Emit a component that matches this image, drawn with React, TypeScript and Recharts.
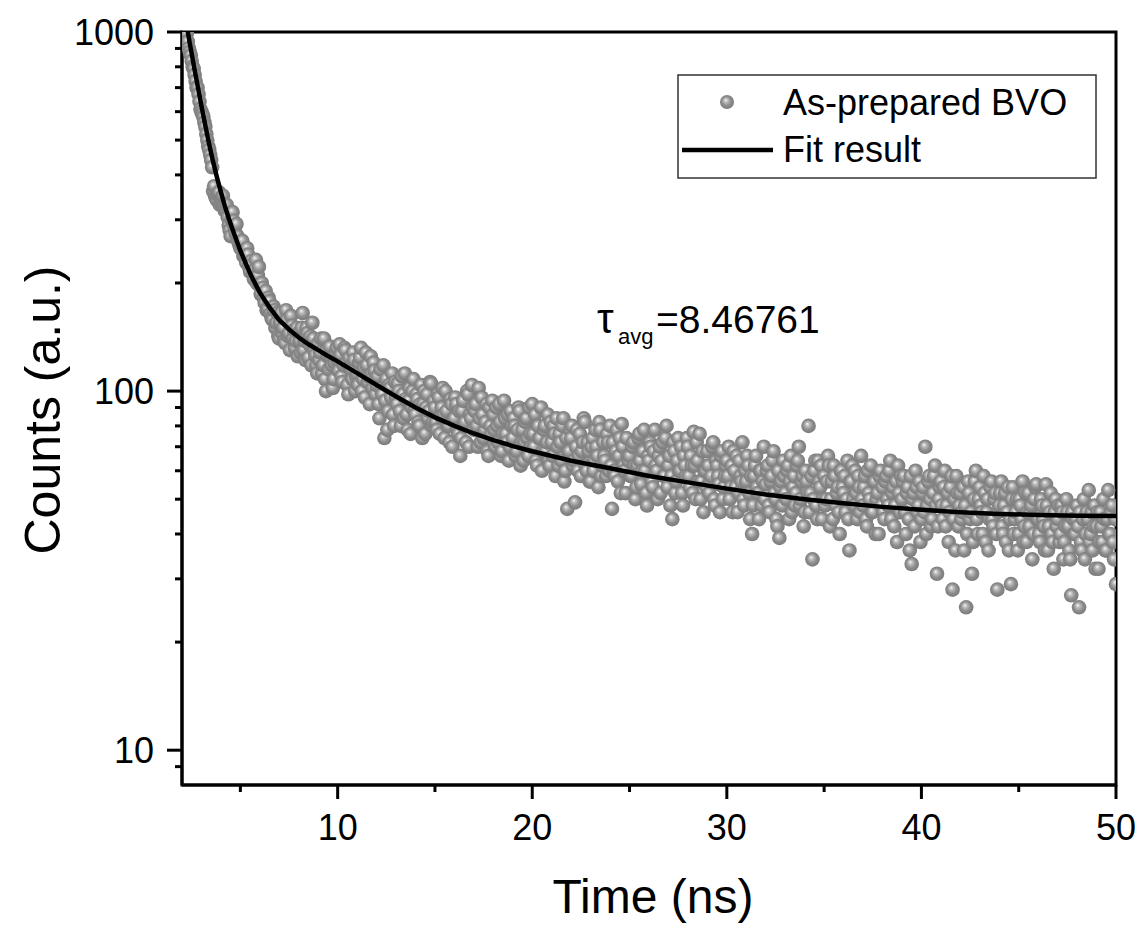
import React from "react";
import {
  ComposedChart,
  Scatter,
  XAxis,
  YAxis,
  ReferenceArea,
  Customized,
} from "recharts";

// TRPL decay, As-prepared BVO
const timeEarly = [
  2.2, 2.3, 2.4, 2.5, 2.6, 2.7, 2.8, 2.9,
  3.0, 3.1, 3.2, 3.3, 3.4, 3.5, 3.6, 3.7, 3.8, 3.9,
  4.0, 4.1, 4.2, 4.3, 4.4, 4.5, 4.6, 4.7, 4.8, 4.9,
  5.0, 5.1, 5.2, 5.3, 5.4, 5.5, 5.6, 5.7, 5.8, 5.9,
  6.0, 6.1, 6.2, 6.3, 6.4, 6.5, 6.6, 6.7, 6.8, 6.9,
  7.0, 7.1, 7.2, 7.3, 7.4, 7.5, 7.6, 7.7, 7.8, 7.9,
  8.0, 8.1, 8.2, 8.3, 8.4, 8.5, 8.6, 8.7, 8.8, 8.9,
  9.0, 9.1, 9.2, 9.3, 9.4, 9.5, 9.6, 9.7, 9.8, 9.9,
];
const countsEarly = [
  960, 940, 880, 830, 790, 730, 700, 640,
  600, 580, 545, 500, 470, 440, 360, 350, 340, 358,
  335, 350, 318, 330, 290, 270, 315, 285, 292, 260,
  250, 262, 245, 228, 240, 215, 225, 205, 232, 210,
  196, 200, 182, 190, 170, 178, 160, 172, 150, 165,
  140, 165, 150, 136, 158, 145, 162, 140, 132, 150,
  145, 128, 165, 138, 150, 124, 142, 155, 130, 118,
  136, 128, 112, 140, 100, 125, 133, 118, 108, 128,
];
const timeEarlyB = [
  2.25, 2.35, 2.45, 2.55, 2.65, 2.75, 2.85, 2.95,
  3.05, 3.15, 3.25, 3.35, 3.45, 3.55, 3.65, 3.75, 3.85, 3.95,
  4.05, 4.15, 4.25, 4.35, 4.45, 4.55, 4.65, 4.75, 4.85, 4.95,
  5.05, 5.15, 5.25, 5.35, 5.45, 5.55, 5.65, 5.75, 5.85, 5.95,
  6.05, 6.15, 6.25, 6.35, 6.45, 6.55, 6.65, 6.75, 6.85, 6.95,
  7.05, 7.15, 7.25, 7.35, 7.45, 7.55, 7.65, 7.75, 7.85, 7.95,
  8.05, 8.15, 8.25, 8.35, 8.45, 8.55, 8.65, 8.75, 8.85, 8.95,
  9.05, 9.15, 9.25, 9.35, 9.45, 9.55, 9.65, 9.75, 9.85, 9.95,
];
const countsEarlyB = [
  990, 900, 860, 800, 760, 700, 670, 610,
  590, 560, 520, 480, 455, 420, 372, 344, 352, 330,
  342, 325, 322, 305, 280, 300, 298, 275, 270, 255,
  256, 238, 236, 250, 222, 230, 212, 218, 200, 222,
  186, 194, 176, 168, 182, 164, 158, 168, 155, 142,
  155, 145, 138, 168, 142, 130, 152, 148, 138, 125,
  138, 150, 130, 122, 145, 135, 118, 140, 126, 112,
  122, 140, 118, 108, 130, 115, 124, 102, 120, 132,
];

const timeMid = [
  10.0, 10.1, 10.2, 10.3, 10.4, 10.5, 10.6, 10.7, 10.8, 10.9,
  11.0, 11.1, 11.2, 11.3, 11.4, 11.5, 11.6, 11.7, 11.8, 11.9,
  12.0, 12.1, 12.2, 12.3, 12.4, 12.5, 12.6, 12.7, 12.8, 12.9,
  13.0, 13.1, 13.2, 13.3, 13.4, 13.5, 13.6, 13.7, 13.8, 13.9,
  14.0, 14.1, 14.2, 14.3, 14.4, 14.5, 14.6, 14.7, 14.8, 14.9,
  15.0, 15.1, 15.2, 15.3, 15.4, 15.5, 15.6, 15.7, 15.8, 15.9,
  16.0, 16.1, 16.2, 16.3, 16.4, 16.5, 16.6, 16.7, 16.8, 16.9,
  17.0, 17.1, 17.2, 17.3, 17.4, 17.5, 17.6, 17.7, 17.8, 17.9,
  18.0, 18.1, 18.2, 18.3, 18.4, 18.5, 18.6, 18.7, 18.8, 18.9,
  19.0, 19.1, 19.2, 19.3, 19.4, 19.5, 19.6, 19.7, 19.8, 19.9,
  20.0, 20.1, 20.2, 20.3, 20.4, 20.5, 20.6, 20.7, 20.8, 20.9,
  21.0, 21.1, 21.2, 21.3, 21.4, 21.5, 21.6, 21.7, 21.8, 21.9,
  22.0, 22.1, 22.2, 22.3, 22.4, 22.5, 22.6, 22.7, 22.8, 22.9,
  23.0, 23.1, 23.2, 23.3, 23.4, 23.5, 23.6, 23.7, 23.8, 23.9,
  24.0, 24.1, 24.2, 24.3, 24.4, 24.5, 24.6, 24.7, 24.8, 24.9,
  25.0, 25.1, 25.2, 25.3, 25.4, 25.5, 25.6, 25.7, 25.8, 25.9,
  26.0, 26.1, 26.2, 26.3, 26.4, 26.5, 26.6, 26.7, 26.8, 26.9,
  27.0, 27.1, 27.2, 27.3, 27.4, 27.5, 27.6, 27.7, 27.8, 27.9,
  28.0, 28.1, 28.2, 28.3, 28.4, 28.5, 28.6, 28.7, 28.8, 28.9,
  29.0, 29.1, 29.2, 29.3, 29.4, 29.5, 29.6, 29.7, 29.8, 29.9,
];
const countsMid = [
  122, 135, 110, 118, 130, 104, 124, 115, 128, 100,
  112, 120, 132, 108, 96, 118, 110, 125, 102, 114,
  104, 92, 115, 98, 74, 108, 88, 102, 112, 80,
  96, 105, 88, 110, 84, 95, 78, 102, 90, 108,
  86, 95, 80, 104, 92, 76, 98, 88, 105, 82,
  90, 78, 96, 85, 102, 74, 88, 80, 95, 70,
  84, 92, 76, 66, 88, 80, 72, 98, 86, 104,
  78, 92, 70, 84, 96, 74, 82, 68, 90, 76,
  86, 70, 80, 92, 66, 76, 84, 72, 64, 88,
  74, 80, 68, 90, 62, 78, 72, 84, 66, 76,
  92, 70, 64, 80, 74, 60, 78, 68, 86, 62,
  72, 80, 58, 70, 76, 64, 84, 60, 47, 68,
  74, 62, 49, 78, 66, 58, 72, 82, 60, 68,
  56, 74, 64, 70, 54, 78, 62, 66, 58, 72,
  80, 47, 60, 68, 56, 74, 81, 62, 52, 66,
  66, 58, 72, 50, 62, 76, 55, 68, 60, 48,
  64, 70, 54, 78, 60, 66, 52, 72, 58, 80,
  62, 48, 44, 68, 56, 74, 60, 52, 66, 58,
  70, 54, 62, 77, 50, 64, 76, 56, 46, 60,
  68, 52, 58, 72, 48, 62, 55, 66, 50, 58,
];
const timeMidB = [
  10.05, 10.15, 10.25, 10.35, 10.45, 10.55, 10.65, 10.75, 10.85, 10.95,
  11.05, 11.15, 11.25, 11.35, 11.45, 11.55, 11.65, 11.75, 11.85, 11.95,
  12.05, 12.15, 12.25, 12.35, 12.45, 12.55, 12.65, 12.75, 12.85, 12.95,
  13.05, 13.15, 13.25, 13.35, 13.45, 13.55, 13.65, 13.75, 13.85, 13.95,
  14.05, 14.15, 14.25, 14.35, 14.45, 14.55, 14.65, 14.75, 14.85, 14.95,
  15.05, 15.15, 15.25, 15.35, 15.45, 15.55, 15.65, 15.75, 15.85, 15.95,
  16.05, 16.15, 16.25, 16.35, 16.45, 16.55, 16.65, 16.75, 16.85, 16.95,
  17.05, 17.15, 17.25, 17.35, 17.45, 17.55, 17.65, 17.75, 17.85, 17.95,
  18.05, 18.15, 18.25, 18.35, 18.45, 18.55, 18.65, 18.75, 18.85, 18.95,
  19.05, 19.15, 19.25, 19.35, 19.45, 19.55, 19.65, 19.75, 19.85, 19.95,
  20.05, 20.15, 20.25, 20.35, 20.45, 20.55, 20.65, 20.75, 20.85, 20.95,
  21.05, 21.15, 21.25, 21.35, 21.45, 21.55, 21.65, 21.75, 21.85, 21.95,
  22.05, 22.15, 22.25, 22.35, 22.45, 22.55, 22.65, 22.75, 22.85, 22.95,
  23.05, 23.15, 23.25, 23.35, 23.45, 23.55, 23.65, 23.75, 23.85, 23.95,
  24.05, 24.15, 24.25, 24.35, 24.45, 24.55, 24.65, 24.75, 24.85, 24.95,
  25.05, 25.15, 25.25, 25.35, 25.45, 25.55, 25.65, 25.75, 25.85, 25.95,
  26.05, 26.15, 26.25, 26.35, 26.45, 26.55, 26.65, 26.75, 26.85, 26.95,
  27.05, 27.15, 27.25, 27.35, 27.45, 27.55, 27.65, 27.75, 27.85, 27.95,
  28.05, 28.15, 28.25, 28.35, 28.45, 28.55, 28.65, 28.75, 28.85, 28.95,
  29.05, 29.15, 29.25, 29.35, 29.45, 29.55, 29.65, 29.75, 29.85, 29.95,
];
const countsMidB = [
  114, 126, 106, 132, 120, 98, 116, 108, 122, 110,
  104, 124, 100, 116, 128, 106, 92, 112, 120, 98,
  110, 84, 100, 118, 94, 78, 104, 96, 86, 106,
  92, 100, 80, 98, 112, 86, 94, 76, 100, 88,
  98, 82, 92, 74, 100, 90, 84, 106, 80, 94,
  82, 98, 76, 90, 86, 100, 80, 72, 92, 84,
  96, 78, 88, 74, 94, 82, 100, 70, 84, 90,
  88, 80, 102, 72, 86, 78, 92, 66, 80, 94,
  78, 90, 72, 82, 68, 94, 76, 86, 70, 80,
  84, 66, 78, 88, 72, 64, 82, 74, 90, 70,
  76, 86, 62, 74, 90, 68, 80, 72, 64, 82,
  66, 76, 84, 62, 72, 80, 56, 74, 68, 78,
  80, 64, 70, 60, 76, 68, 84, 62, 72, 56,
  70, 60, 78, 66, 82, 58, 72, 64, 76, 60,
  62, 72, 58, 78, 66, 52, 70, 60, 74, 64,
  58, 70, 62, 54, 74, 64, 60, 78, 52, 66,
  72, 56, 68, 62, 50, 70, 64, 58, 74, 54,
  66, 58, 72, 52, 64, 60, 70, 48, 62, 74,
  58, 66, 52, 62, 72, 56, 50, 68, 60, 54,
  62, 56, 70, 50, 64, 58, 46, 68, 54, 62,
];

const timeLate = [
  30.0, 30.1, 30.2, 30.3, 30.4, 30.5, 30.6, 30.7, 30.8, 30.9,
  31.0, 31.1, 31.2, 31.3, 31.4, 31.5, 31.6, 31.7, 31.8, 31.9,
  32.0, 32.1, 32.2, 32.3, 32.4, 32.5, 32.6, 32.7, 32.8, 32.9,
  33.0, 33.1, 33.2, 33.3, 33.4, 33.5, 33.6, 33.7, 33.8, 33.9,
  34.0, 34.1, 34.2, 34.3, 34.4, 34.5, 34.6, 34.7, 34.8, 34.9,
  35.0, 35.1, 35.2, 35.3, 35.4, 35.5, 35.6, 35.7, 35.8, 35.9,
  36.0, 36.1, 36.2, 36.3, 36.4, 36.5, 36.6, 36.7, 36.8, 36.9,
  37.0, 37.1, 37.2, 37.3, 37.4, 37.5, 37.6, 37.7, 37.8, 37.9,
  38.0, 38.1, 38.2, 38.3, 38.4, 38.5, 38.6, 38.7, 38.8, 38.9,
  39.0, 39.1, 39.2, 39.3, 39.4, 39.5, 39.6, 39.7, 39.8, 39.9,
  40.0, 40.1, 40.2, 40.3, 40.4, 40.5, 40.6, 40.7, 40.8, 40.9,
  41.0, 41.1, 41.2, 41.3, 41.4, 41.5, 41.6, 41.7, 41.8, 41.9,
  42.0, 42.1, 42.2, 42.3, 42.4, 42.5, 42.6, 42.7, 42.8, 42.9,
  43.0, 43.1, 43.2, 43.3, 43.4, 43.5, 43.6, 43.7, 43.8, 43.9,
  44.0, 44.1, 44.2, 44.3, 44.4, 44.5, 44.6, 44.7, 44.8, 44.9,
  45.0, 45.1, 45.2, 45.3, 45.4, 45.5, 45.6, 45.7, 45.8, 45.9,
  46.0, 46.1, 46.2, 46.3, 46.4, 46.5, 46.6, 46.7, 46.8, 46.9,
  47.0, 47.1, 47.2, 47.3, 47.4, 47.5, 47.6, 47.7, 47.8, 47.9,
  48.0, 48.1, 48.2, 48.3, 48.4, 48.5, 48.6, 48.7, 48.8, 48.9,
  49.0, 49.1, 49.2, 49.3, 49.4, 49.5, 49.6, 49.7, 49.8, 49.9,
  50.0,
];
const countsLate = [
  64, 70, 54, 46, 60, 66, 52, 58, 72, 48,
  56, 62, 44, 40, 58, 66, 52, 60, 48, 70,
  55, 62, 46, 58, 68, 50, 42, 39, 56, 64,
  52, 60, 44, 66, 54, 48, 62, 70, 50, 58,
  46, 56, 80, 52, 34, 60, 48, 64, 54, 44,
  58, 50, 66, 42, 56, 62, 48, 54, 40, 60,
  52, 46, 64, 36, 56, 50, 60, 44, 54, 66,
  48, 58, 42, 52, 62, 46, 56, 50, 40, 60,
  54, 44, 58, 48, 64, 52, 42, 56, 62, 46,
  50, 58, 40, 54, 36, 33, 52, 60, 46, 56,
  44, 54, 70, 48, 58, 42, 52, 62, 31, 50,
  56, 44, 60, 48, 38, 54, 28, 50, 58, 42,
  52, 46, 36, 25, 56, 44, 31, 50, 60, 40,
  54, 46, 58, 38, 50, 44, 56, 42, 52, 28,
  48, 56, 40, 52, 46, 36, 29, 54, 44, 50,
  40, 48, 56, 42, 38, 52, 46, 34, 50, 55,
  44, 38, 48, 42, 55, 36, 46, 40, 32, 50,
  44, 38, 48, 34, 42, 46, 36, 27, 44, 40,
  48, 25, 38, 44, 34, 46, 53, 40, 36, 48,
  42, 32, 46, 38, 44, 36, 53, 40, 48, 34,
  29,
];
const timeLateB = [
  30.05, 30.15, 30.25, 30.35, 30.45, 30.55, 30.65, 30.75, 30.85, 30.95,
  31.05, 31.15, 31.25, 31.35, 31.45, 31.55, 31.65, 31.75, 31.85, 31.95,
  32.05, 32.15, 32.25, 32.35, 32.45, 32.55, 32.65, 32.75, 32.85, 32.95,
  33.05, 33.15, 33.25, 33.35, 33.45, 33.55, 33.65, 33.75, 33.85, 33.95,
  34.05, 34.15, 34.25, 34.35, 34.45, 34.55, 34.65, 34.75, 34.85, 34.95,
  35.05, 35.15, 35.25, 35.35, 35.45, 35.55, 35.65, 35.75, 35.85, 35.95,
  36.05, 36.15, 36.25, 36.35, 36.45, 36.55, 36.65, 36.75, 36.85, 36.95,
  37.05, 37.15, 37.25, 37.35, 37.45, 37.55, 37.65, 37.75, 37.85, 37.95,
  38.05, 38.15, 38.25, 38.35, 38.45, 38.55, 38.65, 38.75, 38.85, 38.95,
  39.05, 39.15, 39.25, 39.35, 39.45, 39.55, 39.65, 39.75, 39.85, 39.95,
  40.05, 40.15, 40.25, 40.35, 40.45, 40.55, 40.65, 40.75, 40.85, 40.95,
  41.05, 41.15, 41.25, 41.35, 41.45, 41.55, 41.65, 41.75, 41.85, 41.95,
  42.05, 42.15, 42.25, 42.35, 42.45, 42.55, 42.65, 42.75, 42.85, 42.95,
  43.05, 43.15, 43.25, 43.35, 43.45, 43.55, 43.65, 43.75, 43.85, 43.95,
  44.05, 44.15, 44.25, 44.35, 44.45, 44.55, 44.65, 44.75, 44.85, 44.95,
  45.05, 45.15, 45.25, 45.35, 45.45, 45.55, 45.65, 45.75, 45.85, 45.95,
  46.05, 46.15, 46.25, 46.35, 46.45, 46.55, 46.65, 46.75, 46.85, 46.95,
  47.05, 47.15, 47.25, 47.35, 47.45, 47.55, 47.65, 47.75, 47.85, 47.95,
  48.05, 48.15, 48.25, 48.35, 48.45, 48.55, 48.65, 48.75, 48.85, 48.95,
  49.05, 49.15, 49.25, 49.35, 49.45, 49.55, 49.65, 49.75, 49.85, 49.95,
];
const countsLateB = [
  58, 50, 62, 68, 54, 46, 64, 56, 50, 60,
  66, 52, 58, 48, 62, 54, 44, 60, 56, 50,
  60, 48, 56, 64, 52, 44, 60, 54, 48, 58,
  50, 62, 56, 46, 58, 52, 64, 48, 56, 42,
  60, 52, 46, 58, 50, 64, 44, 56, 62, 50,
  48, 56, 62, 50, 44, 58, 52, 46, 60, 54,
  58, 50, 44, 56, 62, 48, 52, 58, 46, 50,
  54, 44, 60, 50, 46, 56, 40, 52, 58, 48,
  46, 56, 50, 60, 44, 54, 48, 38, 52, 58,
  56, 46, 52, 44, 58, 50, 42, 54, 48, 38,
  52, 46, 40, 56, 50, 44, 58, 48, 42, 54,
  48, 54, 42, 52, 46, 58, 44, 36, 52, 48,
  44, 54, 48, 40, 52, 46, 38, 56, 44, 50,
  48, 40, 52, 46, 36, 54, 44, 50, 40, 46,
  52, 42, 48, 38, 54, 44, 50, 40, 46, 36,
  50, 44, 38, 52, 46, 42, 48, 40, 54, 44,
  40, 50, 44, 36, 48, 42, 52, 38, 46, 42,
  48, 40, 46, 38, 50, 42, 34, 46, 40, 44,
  42, 46, 36, 50, 40, 44, 38, 46, 42, 32,
  46, 38, 42, 50, 36, 44, 40, 46, 38, 44,
];

// fit result curve
const fitTime = [
  2.1, 2.2, 2.3, 2.4, 2.5, 2.6, 2.7, 2.8, 2.9, 3.0, 3.1, 3.2, 3.3, 3.4, 3.5,
  3.6, 3.8, 4.0, 4.2, 4.4, 4.6, 4.8, 5.0, 5.3, 5.6, 6.0, 6.5, 7.0, 7.5, 8, 8.5,
  9, 9.5, 10, 11, 12, 13, 14, 15, 16, 17, 18, 19, 20, 22, 24, 26, 28, 30, 32,
  34, 36, 38, 40, 42, 44, 46, 48, 50,
];
const fitCounts = [
  1150, 1070, 1000, 930, 870, 810, 758, 710, 665, 622, 584, 549, 516, 486, 459,
  435, 393, 358, 328, 303, 282, 263, 246, 225, 207, 188, 171, 157.5, 148.5, 141,
  135, 130, 125.3, 121, 112.2, 104, 96.6, 90, 84.5, 80, 76.2, 73, 70.3, 68,
  64, 61, 58, 55.7, 53.5, 51.5, 50, 48.7, 47.6, 46.7, 46, 45.5, 45.2, 45, 44.9,
];

const xTicks = [5, 10, 15, 20, 25, 30, 35, 40, 45, 50];
const xMajor = [10, 20, 30, 40, 50];
const yTicks = [
  9, 10, 20, 30, 40, 50, 60, 70, 80, 90, 100, 200, 300, 400, 500, 600, 700,
  800, 900, 1000,
];
const yMajor = [10, 100, 1000];

const FONT = "'Liberation Sans', Arial, Helvetica, sans-serif";

const pair = (ts: number[], cs: number[]) => ts.map((t, i) => ({ t, c: cs[i] }));
const decayData = [
  ...pair(timeEarly, countsEarly),
  ...pair(timeEarlyB, countsEarlyB),
  ...pair(timeMid, countsMid),
  ...pair(timeMidB, countsMidB),
  ...pair(timeLate, countsLate),
  ...pair(timeLateB, countsLateB),
].sort((a, b) => a.t - b.t);
const fitData = pair(fitTime, fitCounts);

const XTick = (props: any) => {
  const { x, y, payload } = props;
  const major = xMajor.includes(payload.value);
  return (
    <g>
      <line x1={x} x2={x} y1={y} y2={y + (major ? 14 : 7)} stroke="#000" strokeWidth={3} />
      {major && (
        <text x={x} y={y + 55} textAnchor="middle" fontSize={36} fontFamily={FONT} fill="#000">
          {payload.value}
        </text>
      )}
    </g>
  );
};

const YTick = (props: any) => {
  const { x, y, payload } = props;
  const major = yMajor.includes(payload.value);
  return (
    <g>
      <line x1={x - (major ? 15 : 7)} x2={x} y1={y} y2={y} stroke="#000" strokeWidth={3} />
      {major && (
        <text x={x - 28} y={y + 13} textAnchor="end" fontSize={36} fontFamily={FONT} fill="#000">
          {payload.value}
        </text>
      )}
    </g>
  );
};

const renderBall = (props: any) => (
  <circle cx={props.cx} cy={props.cy} r={7.3} fill="url(#ball)" />
);
const renderNothing = () => <g />;

const Overlay = () => (
  <g fontFamily={FONT} fill="#000">
    {/* axis titles */}
    <text x={653} y={913} textAnchor="middle" fontSize={48}>
      Time (ns)
    </text>
    <text transform="translate(60,410) rotate(-90)" textAnchor="middle" fontSize={50}>
      Counts (a.u.)
    </text>

    {/* annotation */}
    <text x={597} y={333} fontSize={42}>τ</text>
    <text x={618} y={344} fontSize={22}>avg</text>
    <text x={656} y={333} fontSize={39}>=8.46761</text>

    {/* legend */}
    <rect x={678} y={75} width={418} height={103} fill="#fff" stroke="#333" strokeWidth={1.5} />
    <circle cx={727} cy={102} r={7} fill="url(#ball)" />
    <text x={783} y={115} fontSize={36}>As-prepared BVO</text>
    <line x1={682} x2={773} y1={150} y2={150} stroke="#000" strokeWidth={4.5} />
    <text x={783} y={162} fontSize={36}>Fit result</text>
  </g>
);

export default function App() {
  return (
    <div style={{ position: "absolute", left: 0, top: 0, width: 1143, height: 926, background: "#fff" }}>
      <ComposedChart width={1143} height={926} margin={{ top: 32, right: 27, bottom: 0, left: 0 }}>
        <defs>
          <radialGradient id="ball" cx="0.5" cy="0.5" r="0.55" fx="0.4" fy="0.35">
            <stop offset="0%" stopColor="#f6f6f6" />
            <stop offset="25%" stopColor="#bdbdbd" />
            <stop offset="60%" stopColor="#8c8c8c" />
            <stop offset="100%" stopColor="#777777" />
          </radialGradient>
        </defs>
        <XAxis
          type="number"
          dataKey="t"
          domain={[2, 50]}
          allowDataOverflow
          ticks={xTicks}
          interval={0}
          tickSize={0}
          tickMargin={0}
          tickLine={false}
          tick={<XTick />}
          axisLine={{ stroke: "#000", strokeWidth: 3 }}
          height={141}
        />
        <YAxis
          type="number"
          dataKey="c"
          scale="log"
          domain={[8, 1000]}
          allowDataOverflow
          ticks={yTicks}
          interval={0}
          tickSize={0}
          tickMargin={0}
          tickLine={false}
          tick={<YTick />}
          axisLine={{ stroke: "#000", strokeWidth: 3 }}
          width={182}
        />
        <Scatter
          name="As-prepared BVO"
          data={decayData}
          shape={renderBall}
          isAnimationActive={false}
        />
        <Scatter
          name="Fit result"
          data={fitData}
          line={{ stroke: "#000", strokeWidth: 4.5, fill: "none" }}
          lineType="joint"
          shape={renderNothing}
          isAnimationActive={false}
        />
        <ReferenceArea x1={2} x2={50} y1={8} y2={1000} fill="none" stroke="#000" strokeWidth={3} />
        <Customized component={Overlay} />
      </ComposedChart>
    </div>
  );
}
